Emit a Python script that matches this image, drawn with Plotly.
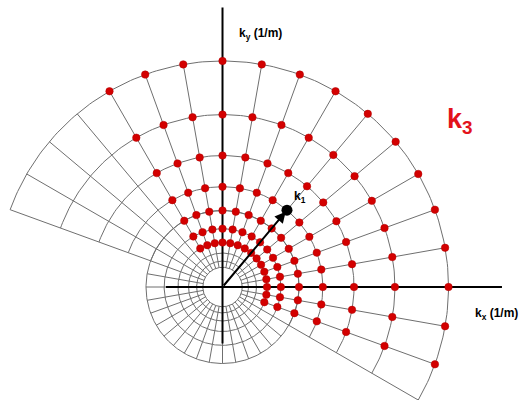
import numpy as np
import plotly.graph_objects as go

# Log-polar wave-vector grid (radii in units of the first dotted ring)
INNER_RINGS = [0.443, 0.582, 0.763, 1.0, 1.311, 1.719]   # full circles
OUTER_RINGS = [1.719, 2.254, 2.955, 3.874, 5.079]        # sector arcs
INNER_SPOKES_DEG = list(range(0, 360, 10))
SECTOR_SPOKES_DEG = list(range(-30, 161, 10))
SECTOR_SPAN_DEG = [-30, 160]

# Allowed k3 states (red dots)
DOT_RINGS = [1.0, 1.311, 1.719, 2.254, 2.955, 3.874, 5.079]
DOT_ANGLES_DEG = [-20, -10, 0, 10, 20, 30, 40, 50, 60, 70, 80, 90, 100, 110, 120]

# k1 vector: magnitude, direction
K1 = [2.254, 50]

# kx / ky axis extent
AXIS_EXTENT = [-1.27, 6.28]

GRID_COLOR = "#6f6f6f"
DOT_COLOR = "#d30000"


def arc(r, a0, a1):
    t = np.radians(np.arange(a0, a1 + 0.5, 1.0))
    return list(r * np.cos(t)) + [None], list(r * np.sin(t)) + [None]


def spoke(a, r0, r1):
    t = np.radians(a)
    return [r0 * np.cos(t), r1 * np.cos(t), None], [r0 * np.sin(t), r1 * np.sin(t), None]


gx, gy = [], []
for r in INNER_RINGS:
    x, y = arc(r, 0, 360)
    gx += x
    gy += y
for a in INNER_SPOKES_DEG:
    x, y = spoke(a, INNER_RINGS[0], INNER_RINGS[-1])
    gx += x
    gy += y
for r in OUTER_RINGS:
    x, y = arc(r, SECTOR_SPAN_DEG[0], SECTOR_SPAN_DEG[1])
    gx += x
    gy += y
for a in SECTOR_SPOKES_DEG:
    x, y = spoke(a, OUTER_RINGS[0], OUTER_RINGS[-1])
    gx += x
    gy += y

dx, dy = [], []
for r in DOT_RINGS:
    for a in DOT_ANGLES_DEG:
        t = np.radians(a)
        dx.append(r * np.cos(t))
        dy.append(r * np.sin(t))

k1x = K1[0] * np.cos(np.radians(K1[1]))
k1y = K1[0] * np.sin(np.radians(K1[1]))

fig = go.Figure()
fig.add_trace(go.Scatter(x=gx, y=gy, mode="lines",
                         line=dict(color=GRID_COLOR, width=1),
                         hoverinfo="skip", showlegend=False))
# kx and ky axes
fig.add_trace(go.Scatter(x=[AXIS_EXTENT[0], AXIS_EXTENT[1], None, 0, 0],
                         y=[0, 0, None, AXIS_EXTENT[0], AXIS_EXTENT[1]],
                         mode="lines", line=dict(color="black", width=2),
                         hoverinfo="skip", showlegend=False))
fig.add_trace(go.Scatter(x=dx, y=dy, mode="markers",
                         marker=dict(color=DOT_COLOR, size=7.5,
                                     line=dict(color="#b00000", width=0.5)),
                         hoverinfo="skip", showlegend=False))
fig.add_trace(go.Scatter(x=[k1x], y=[k1y], mode="markers",
                         marker=dict(color="black", size=11),
                         hoverinfo="skip", showlegend=False))

fig.add_annotation(x=k1x, y=k1y, ax=0, ay=0, xref="x", yref="y",
                   axref="x", ayref="y", showarrow=True, arrowhead=2,
                   arrowsize=1.1, arrowwidth=2, arrowcolor="black",
                   standoff=2, text="")

FONT = "Liberation Sans, Arial, sans-serif"
fig.add_annotation(x=k1x + 0.12, y=k1y + 0.08, xref="x", yref="y",
                   text="<b>k<sub>1</sub></b>", showarrow=False,
                   xanchor="left", yanchor="bottom",
                   font=dict(family=FONT, size=12, color="black"))
fig.add_annotation(x=0.32, y=AXIS_EXTENT[1] - 0.6, xref="x", yref="y",
                   text="<b>k<sub>y</sub> (1/m)</b>", showarrow=False,
                   xanchor="left", yanchor="middle",
                   font=dict(family=FONT, size=12, color="black"))
fig.add_annotation(x=AXIS_EXTENT[1] - 0.66, y=-0.6, xref="x", yref="y",
                   text="<b>k<sub>x</sub> (1/m)</b>", showarrow=False,
                   xanchor="left", yanchor="middle",
                   font=dict(family=FONT, size=12, color="black"))
fig.add_annotation(x=4.99, y=3.74, xref="x", yref="y",
                   text="<b>k<sub>3</sub></b>", showarrow=False,
                   xanchor="left", yanchor="middle",
                   font=dict(family=FONT, size=27, color="#e3121b"))

fig.update_layout(
    width=522, height=400,
    margin=dict(l=0, r=0, t=0, b=0),
    paper_bgcolor="white", plot_bgcolor="white",
    xaxis=dict(range=[-5.0, 6.730], visible=False, fixedrange=True),
    yaxis=dict(range=[-2.539, 6.449], visible=False, fixedrange=True),
)

fig.write_html("out.html")
